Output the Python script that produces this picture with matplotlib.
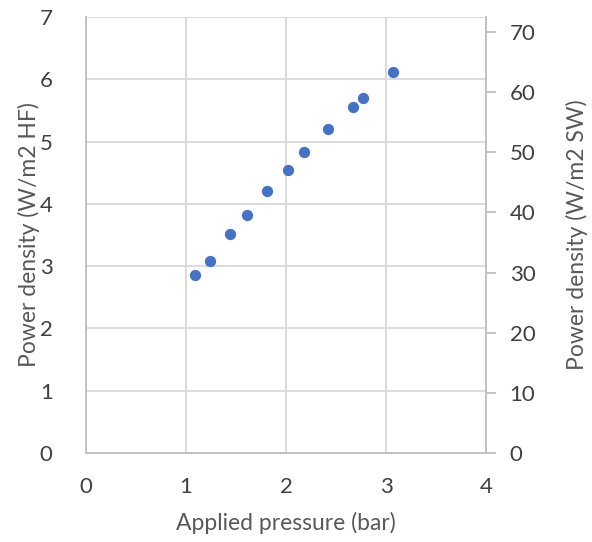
import matplotlib.pyplot as plt

plt.rcParams['font.family'] = ['Lato', 'DejaVu Sans']

# applied pressure (bar) vs power density (W/m2 HF)
pressure = [1.09, 1.24, 1.44, 1.61, 1.81, 2.02, 2.18, 2.42, 2.67, 2.77, 3.07]
power_hf = [2.85, 3.08, 3.52, 3.82, 4.20, 4.54, 4.84, 5.21, 5.55, 5.70, 6.11]

x_ticks = [0, 1, 2, 3, 4]
hf_ticks = [0, 1, 2, 3, 4, 5, 6, 7]
sw_ticks = [0, 10, 20, 30, 40, 50, 60, 70]

axis_grey = '#bfbfbf'
grid_grey = '#d9d9d9'
text_grey = '#595959'
tick_grey = '#404040'

fig = plt.figure(figsize=(5.92, 5.42), dpi=100)
ax = fig.add_axes([0.1453, 0.1642, 0.6757, 0.8044])

ax.scatter(pressure, power_hf, s=66, color='#4472c4', zorder=3, linewidths=0)

ax.set_xlim(0, 4)
ax.set_ylim(0, 7)
ax.set_xticks(x_ticks)
ax.set_yticks(hf_ticks)
ax.grid(True, color=grid_grey, linewidth=1.3)
ax.set_axisbelow(True)
ax.tick_params(axis='x', length=0, labelsize=16, labelcolor=tick_grey, pad=17)
ax.tick_params(axis='y', length=0, labelsize=16, labelcolor=tick_grey, pad=24)

for side in ['left', 'bottom']:
    ax.spines[side].set_color(axis_grey)
    ax.spines[side].set_linewidth(1.3)
for side in ['top', 'right']:
    ax.spines[side].set_visible(False)

ax.set_xlabel('Applied pressure (bar)', fontsize=16.5, color=text_grey, labelpad=11)
ax.set_ylabel('Power density (W/m2 HF)', fontsize=16.5, color=text_grey, labelpad=0)

# secondary axis in W/m2 SW
ax2 = ax.twinx()
ax2.set_ylim(0, 72.5)
ax2.set_yticks(sw_ticks)
ax2.tick_params(axis='y', length=7, width=1.3, color=axis_grey,
                labelsize=16, labelcolor=tick_grey, pad=10)
for side in ['left', 'bottom', 'top']:
    ax2.spines[side].set_visible(False)
ax2.spines['right'].set_color(axis_grey)
ax2.spines['right'].set_linewidth(1.3)
ax2.set_ylabel('Power density (W/m2 SW)', fontsize=16.5, color=text_grey, labelpad=22)

fig.savefig('out.png', dpi=100)
